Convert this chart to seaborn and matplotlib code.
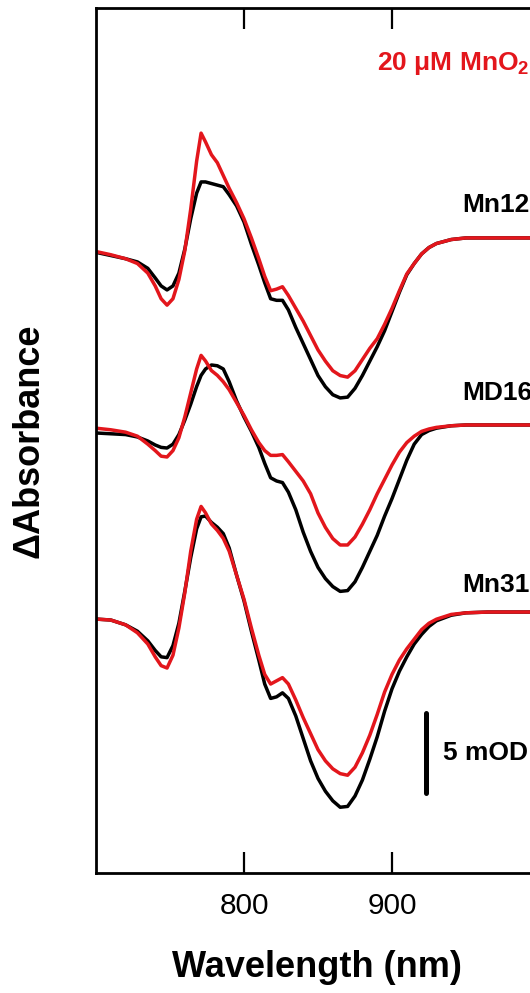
import numpy as np
import pandas as pd
import matplotlib
matplotlib.use("Agg")
import matplotlib.pyplot as plt
import seaborn as sns

# ---------------- data (mOD, relative to long-wavelength plateau) ----------------
wavelength = [700, 710, 720, 728, 735, 740, 744, 748, 752, 756,
              760, 764, 768, 771, 774, 778, 782, 786, 790, 795,
              800, 805, 810, 814, 818, 822, 826, 830, 835, 840,
              845, 850, 855, 860, 865, 870, 875, 880, 885, 890,
              895, 900, 905, 910, 915, 920, 925, 930, 940, 950,
              965, 980, 1000]

mn12_black = [-0.9, -1.1, -1.3, -1.5, -1.9, -2.5, -3.0, -3.25, -3.0, -2.2,
              -0.7, 1.2, 2.8, 3.5, 3.5, 3.4, 3.3, 3.2, 2.7, 2.0,
              1.0, -0.4, -1.7, -2.8, -3.8, -3.9, -3.9, -4.5, -5.6, -6.6,
              -7.6, -8.6, -9.3, -9.8, -10.0, -9.95, -9.4, -8.6, -7.7, -6.8,
              -5.8, -4.6, -3.4, -2.3, -1.6, -1.0, -0.6, -0.35, -0.1, 0.0,
              0.0, 0.0, 0.0]
mn12_red = [-0.85, -1.05, -1.3, -1.6, -2.2, -3.0, -3.8, -4.2, -3.8, -2.6,
            -0.8, 1.8, 4.8, 6.55, 6.0, 5.2, 4.7, 3.9, 3.1, 2.2,
            1.2, 0.0, -1.3, -2.4, -3.3, -3.2, -3.05, -3.6, -4.4, -5.2,
            -6.1, -7.0, -7.7, -8.3, -8.6, -8.7, -8.3, -7.6, -6.9, -6.3,
            -5.4, -4.4, -3.3, -2.25, -1.6, -1.0, -0.6, -0.35, -0.1, 0.0,
            0.0, 0.0, 0.0]

md16_black = [-0.5, -0.55, -0.6, -0.75, -1.0, -1.25, -1.4, -1.44, -1.2, -0.6,
              0.3, 1.3, 2.4, 3.1, 3.5, 3.75, 3.7, 3.5, 2.7, 1.5,
              0.5, -0.4, -1.4, -2.4, -3.3, -3.5, -3.6, -4.2, -5.3, -6.7,
              -7.9, -8.9, -9.6, -10.1, -10.4, -10.35, -9.8, -8.9, -7.9, -6.9,
              -5.7, -4.6, -3.4, -2.2, -1.2, -0.6, -0.35, -0.2, -0.05, 0.0,
              0.0, 0.0, 0.0]
md16_red = [-0.2, -0.3, -0.45, -0.7, -1.2, -1.6, -1.95, -2.0, -1.6, -0.8,
            0.5, 2.0, 3.5, 4.35, 4.0, 3.4, 3.1, 2.7, 2.2, 1.4,
            0.6, -0.3, -1.1, -1.6, -1.9, -1.9, -1.85, -2.3, -2.9, -3.5,
            -4.3, -5.5, -6.4, -7.1, -7.5, -7.5, -7.0, -6.2, -5.3, -4.3,
            -3.4, -2.5, -1.7, -1.1, -0.7, -0.4, -0.25, -0.15, -0.05, 0.0,
            0.0, 0.0, 0.0]

mn31_black = [-0.44, -0.5, -0.8, -1.2, -1.8, -2.4, -2.8, -2.85, -2.1, -0.7,
              1.3, 3.4, 5.2, 5.95, 6.0, 5.6, 5.3, 4.9, 4.0, 2.3,
              0.7, -1.2, -3.0, -4.5, -5.4, -5.3, -5.05, -5.4, -6.5, -7.9,
              -9.3, -10.4, -11.2, -11.8, -12.2, -12.15, -11.5, -10.5, -9.2, -7.8,
              -6.2, -4.8, -3.7, -2.8, -2.0, -1.4, -0.9, -0.55, -0.2, -0.05,
              0.0, 0.0, 0.0]
mn31_red = [-0.44, -0.5, -0.8, -1.3, -2.0, -2.8, -3.35, -3.5, -2.7, -1.0,
            1.2, 3.8, 5.8, 6.6, 6.2, 5.5, 5.1, 4.6, 3.8, 2.3,
            0.8, -1.0, -2.7, -3.9, -4.5, -4.3, -4.1, -4.5, -5.5, -6.6,
            -7.6, -8.6, -9.3, -9.8, -10.1, -10.2, -9.7, -8.8, -7.7, -6.4,
            -5.0, -3.9, -3.0, -2.3, -1.7, -1.1, -0.7, -0.45, -0.15, -0.05,
            0.0, 0.0, 0.0]

samples = ["Mn12", "MD16", "Mn31"]
offsets = [23.38, 11.69, 0.0]          # vertical stacking (mOD)
black_traces = [mn12_black, md16_black, mn31_black]
red_traces = [mn12_red, md16_red, mn31_red]
x_ticks = [800, 900]
scale_bar_mOD = 5

# ---------------- styling ----------------
sns.set_style("ticks")
plt.rcParams["font.family"] = ["Liberation Sans", "DejaVu Sans"]
plt.rcParams["mathtext.fontset"] = "custom"
plt.rcParams["mathtext.rm"] = "Liberation Sans:bold"
plt.rcParams["mathtext.bf"] = "Liberation Sans:bold"
plt.rcParams["mathtext.default"] = "bf"
for k in ["text.color", "axes.labelcolor", "xtick.color", "ytick.color", "axes.edgecolor"]:
    plt.rcParams[k] = "black"

RED = "#e3161c"
BLACK = "#000000"

fig = plt.figure(figsize=(5.30, 9.93), dpi=100)
ax = fig.add_axes([96 / 530, 120 / 993, 444 / 530, 865 / 993])

rows = []
for name, off, bk, rd in zip(samples, offsets, black_traces, red_traces):
    for w, b, r in zip(wavelength, bk, rd):
        rows.append((name, "control", w, b + off))
        rows.append((name, "MnO2", w, r + off))
df = pd.DataFrame(rows, columns=["sample", "treat", "wl", "dA"])

for name in samples:
    sub = df[df["sample"] == name]
    sns.lineplot(data=sub[sub["treat"] == "control"], x="wl", y="dA", color=BLACK,
                 lw=2.5, estimator=None, sort=False, ax=ax, legend=False,
                 solid_joinstyle="round")
    sns.lineplot(data=sub[sub["treat"] == "MnO2"], x="wl", y="dA", color=RED,
                 lw=2.5, estimator=None, sort=False, ax=ax, legend=False,
                 solid_joinstyle="round")

ax.set_xlim(700, 1000)
ax.set_ylim(-16.31, 37.75)
ax.set_xticks(x_ticks)
ax.set_xticklabels([str(t) for t in x_ticks])
ax.set_yticks([])
ax.tick_params(axis="x", which="both", direction="in", length=15, width=1.6,
               top=True, bottom=True, labelsize=21.5, pad=14)
for s in ax.spines.values():
    s.set_linewidth(2.0)
    s.set_visible(True)

ax.set_xlabel("Wavelength (nm)", fontsize=26, fontweight="bold")
ax.set_ylabel("ΔAbsorbance", fontsize=26, fontweight="bold")
ax.xaxis.label.set_va("center")
ax.xaxis.set_label_coords(0.498, -0.1098)
ax.yaxis.label.set_va("center")
ax.yaxis.set_label_coords(-0.151, 0.5)

# labels
label_y = [25.44, 13.69, 1.69]
for name, ly in zip(samples, label_y):
    ax.text(947.3, ly, name, fontsize=19, fontweight="bold", ha="left", va="center")
ax.text(889.9, 34.3, r"20 μM MnO$_2$", color=RED, fontsize=19, fontweight="bold",
        ha="left", va="center")

# scale bar
bar_top = -6.31
ax.plot([923, 923], [bar_top, bar_top - scale_bar_mOD], color=BLACK, lw=3.6,
        solid_capstyle="round")
ax.text(934.5, bar_top - scale_bar_mOD / 2, f"{scale_bar_mOD} mOD", fontsize=19,
        fontweight="bold", ha="left", va="center")

fig.savefig("out.png", dpi=100)
